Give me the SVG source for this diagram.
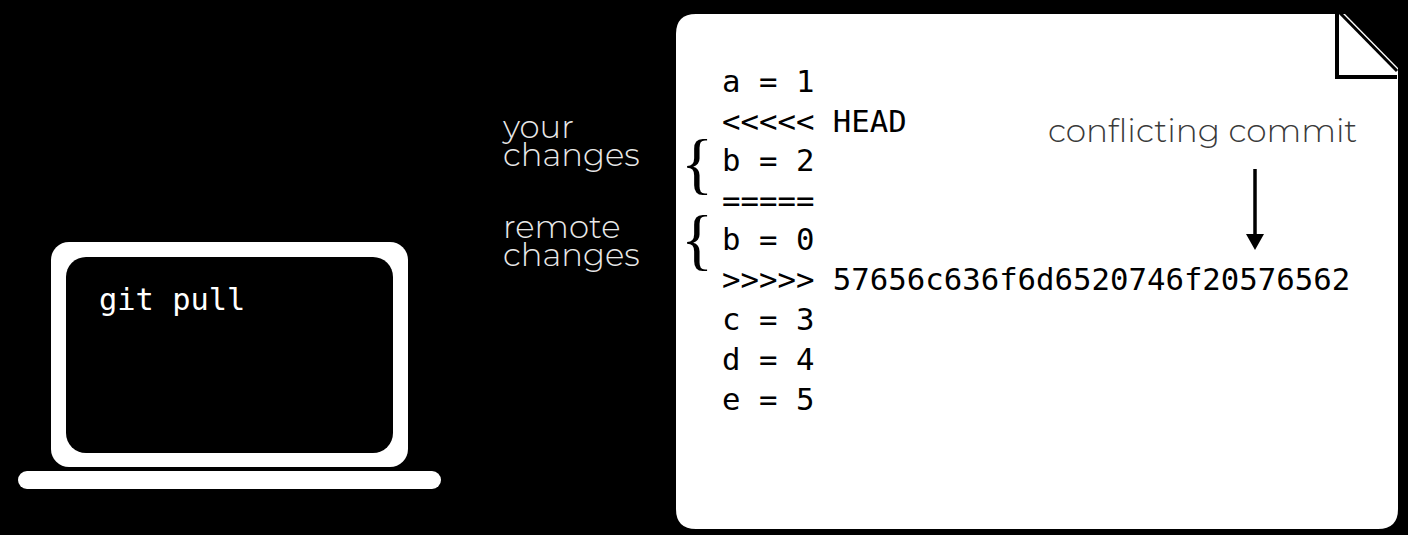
<svg xmlns="http://www.w3.org/2000/svg" width="1408" height="535" viewBox="0 0 1408 535">
<style>
.m{font-family:"DejaVu Sans Mono","Liberation Mono",monospace;font-size:30.7px;fill:#000}
.l{font-family:"Montserrat","Lato","Noto Sans",sans-serif;font-size:32.7px;font-weight:300;fill:#3a3a3a}
.w{fill:#e8e8e8;font-size:32.3px}
.b{font-family:"Liberation Serif",serif;font-size:67px;fill:#000}
</style>
<rect width="1408" height="535" fill="#000"/>
<g id="laptop">
<rect x="51" y="242" width="357" height="225" rx="18" fill="#fff"/>
<rect x="66" y="257" width="327" height="196" rx="20" fill="#000"/>
<rect x="18" y="471" width="423" height="18" rx="9" fill="#fff"/>
<text x="99" y="310" font-family="DejaVu Sans Mono,monospace" font-size="30.4" fill="#fff">git pull</text>
</g>
<g id="labels">
<text x="503" y="138" class="l w">your</text>
<text x="503" y="166" class="l w">changes</text>
<text x="503" y="238" class="l w">remote</text>
<text x="503" y="266" class="l w">changes</text>
</g>
<g id="file">
<path d="M696 14H1345L1398 68V509Q1398 529 1378 529H696Q676 529 676 509V34Q676 14 696 14Z" fill="#fff"/>
<path d="M1337 14V77H1397" fill="none" stroke="#000" stroke-width="4"/>
<path d="M1340 13L1397 71" fill="none" stroke="#000" stroke-width="3"/>
<text x="681" y="186" class="b">{</text>
<text x="681" y="262" class="b">{</text>
<text class="m" x="722" y="92">a = 1</text>
<text class="m" x="722" y="132">&lt;&lt;&lt;&lt;&lt; HEAD</text>
<text class="m" x="722" y="171">b = 2</text>
<text class="m" x="722" y="211">=====</text>
<text class="m" x="722" y="250">b = 0</text>
<text class="m" x="722" y="290">&gt;&gt;&gt;&gt;&gt; 57656c636f6d6520746f20576562</text>
<text class="m" x="722" y="330">c = 3</text>
<text class="m" x="722" y="370">d = 4</text>
<text class="m" x="722" y="410">e = 5</text>
<text class="l" x="1048" y="142">conflicting commit</text>
</g>
<g id="connectors">
<path d="M1255 169V236" stroke="#000" stroke-width="3.5" fill="none"/>
<path d="M1246 234H1264L1255 250Z" fill="#000"/>
</g>
</svg>
